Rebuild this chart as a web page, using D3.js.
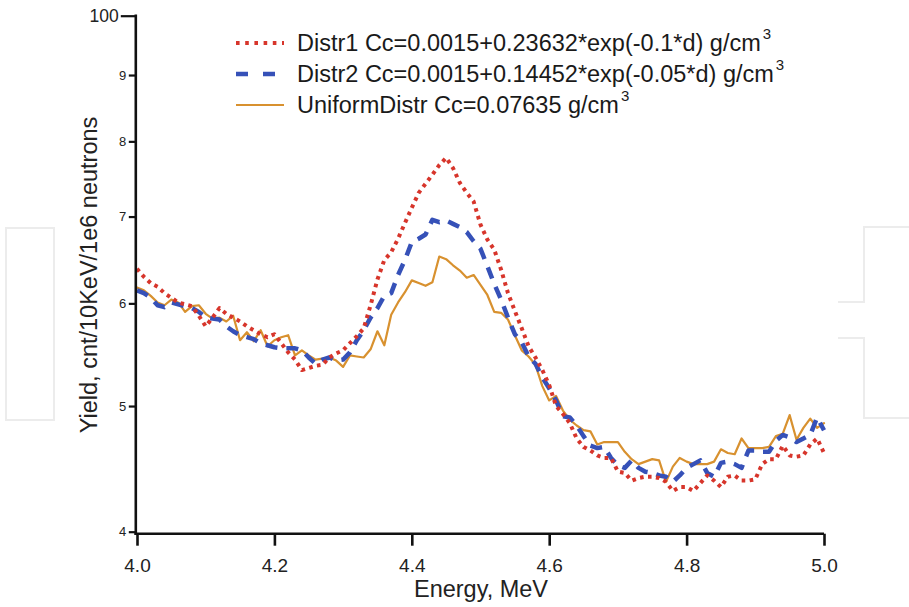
<!DOCTYPE html>
<html>
<head>
<meta charset="utf-8">
<script src="https://cdn.jsdelivr.net/npm/d3@7"></script>
<style>
  html, body { margin: 0; padding: 0; background: #fff; }
  svg { display: block; font-family: "Liberation Sans", Arial, sans-serif; }
</style>
</head>
<body>
<svg id="chart" width="909" height="607"></svg>
<script>
// Energy grid, MeV (0.01 MeV bins)
const energy = d3.range(0, 101).map(i => +(4 + i * 0.01).toFixed(2));

// Yield, cnt/10KeV/1e6 neutrons
const distr1 = [
  6.38, 6.29, 6.22, 6.18, 6.11, 6.06, 6.01, 5.99, 5.97, 5.87,
  5.76, 5.85, 5.95, 5.89, 5.85, 5.81, 5.76, 5.72, 5.68, 5.65,
  5.68, 5.59, 5.50, 5.43, 5.33, 5.35, 5.37, 5.38, 5.45, 5.49,
  5.52, 5.59, 5.66, 5.74, 5.98, 6.26, 6.48, 6.57, 6.73, 6.92,
  7.11, 7.30, 7.42, 7.54, 7.67, 7.77, 7.63, 7.43, 7.30, 7.19,
  6.90, 6.72, 6.60, 6.37, 6.11, 5.92, 5.74, 5.56, 5.45, 5.33,
  5.19, 5.00, 4.93, 4.85, 4.72, 4.65, 4.62, 4.58, 4.56, 4.56,
  4.45, 4.44, 4.38, 4.40, 4.41, 4.41, 4.40, 4.37, 4.30, 4.33,
  4.33, 4.30, 4.36, 4.42, 4.38, 4.33, 4.41, 4.42, 4.38, 4.38,
  4.39, 4.51, 4.55, 4.55, 4.66, 4.58, 4.57, 4.58, 4.67, 4.72,
  4.60
];
const distr2 = [
  6.14, 6.11, 6.06, 5.98, 5.96, 6.01, 5.99, 5.97, 5.95, 5.91,
  5.85, 5.84, 5.83, 5.76, 5.71, 5.67, 5.65, 5.63, 5.59, 5.57,
  5.55, 5.54, 5.54, 5.54, 5.52, 5.45, 5.39, 5.43, 5.45, 5.42,
  5.43, 5.50, 5.62, 5.72, 5.85, 5.95, 6.08, 6.11, 6.31, 6.48,
  6.69, 6.73, 6.78, 6.96, 6.93, 6.95, 6.91, 6.87, 6.81, 6.70,
  6.61, 6.41, 6.21, 6.04, 5.85, 5.68, 5.60, 5.46, 5.39, 5.26,
  5.16, 5.05, 4.91, 4.90, 4.83, 4.74, 4.66, 4.64, 4.65, 4.56,
  4.50, 4.48, 4.54, 4.48, 4.45, 4.44, 4.42, 4.41, 4.37, 4.42,
  4.48, 4.51, 4.54, 4.44, 4.41, 4.52, 4.53, 4.51, 4.48, 4.62,
  4.62, 4.61, 4.61, 4.70, 4.75, 4.73, 4.69, 4.72, 4.75, 4.90,
  4.79
];
const uniform = [
  6.17, 6.14, 6.08, 6.01, 5.98, 6.04, 6.01, 5.91, 5.97, 5.98,
  5.89, 5.84, 5.85, 5.81, 5.87, 5.62, 5.70, 5.61, 5.72, 5.56,
  5.62, 5.65, 5.67, 5.47, 5.52, 5.47, 5.43, 5.44, 5.45, 5.42,
  5.36, 5.47, 5.46, 5.45, 5.53, 5.71, 5.57, 5.88, 6.01, 6.12,
  6.25, 6.22, 6.19, 6.23, 6.52, 6.49, 6.42, 6.36, 6.28, 6.31,
  6.20, 6.09, 5.91, 5.90, 5.83, 5.67, 5.52, 5.46, 5.38, 5.18,
  5.05, 5.09, 4.96, 4.88, 4.83, 4.79, 4.78, 4.67, 4.69, 4.69,
  4.69, 4.61, 4.55, 4.51, 4.53, 4.55, 4.54, 4.37, 4.49, 4.56,
  4.53, 4.51, 4.51, 4.51, 4.53, 4.63, 4.60, 4.59, 4.72, 4.64,
  4.64, 4.64, 4.65, 4.74, 4.76, 4.92, 4.71, 4.81, 4.89, 4.81,
  4.85
];

const xTicks = [4.0, 4.2, 4.4, 4.6, 4.8, 5.0];
const yTicks = [4, 5, 6, 7, 8, 9, 10];
const yTickLabels = ["4", "5", "6", "7", "8", "9", "100"];

const seriesNames = [
  "Distr1 Cc=0.0015+0.23632*exp(-0.1*d) g/cm",
  "Distr2 Cc=0.0015+0.14452*exp(-0.05*d) g/cm",
  "UniformDistr Cc=0.07635 g/cm"
];

const series = [
  { name: seriesNames[0], values: distr1, color: "#d7352b", width: 4,   dash: "3.6,4.4", legendDash: "3.6,5.6", cap: "butt" },
  { name: seriesNames[1], values: distr2, color: "#3651b8", width: 4.5, dash: "12,9",    legendDash: "12,15",   cap: "butt" },
  { name: seriesNames[2], values: uniform, color: "#d8912f", width: 2.2, dash: null,     legendDash: null,      cap: "round" }
];

const svg = d3.select("#chart");

// faint page decorations at the edges
const deco = svg.append("g").attr("fill", "none").attr("stroke", "#ececec").attr("stroke-width", 2);
deco.append("rect").attr("x", 6).attr("y", 228).attr("width", 48).attr("height", 192);
deco.append("path").attr("d", "M909,227H864V302H838M838,338H864V418H909");

const x = d3.scaleLinear().domain([4, 5]).range([137, 824]);
const y = d3.scaleLog().domain([4, 10]).range([531.7, 15.7]);

// data lines
const line = d3.line().x((d, i) => x(energy[i])).y(d => y(d));
const lines = svg.append("g");
series.slice().reverse().forEach(s => {
  lines.append("path")
    .datum(s.values)
    .attr("d", line)
    .attr("fill", "none")
    .attr("stroke", s.color)
    .attr("stroke-width", s.width)
    .attr("stroke-linejoin", "round")
    .attr("stroke-linecap", s.cap)
    .attr("stroke-dasharray", s.dash);
});

// x axis
const xAxis = svg.append("g")
  .attr("transform", "translate(0,533.7)")
  .call(d3.axisBottom(x).tickValues(xTicks).tickFormat(d3.format(".1f")).tickSize(12).tickSizeOuter(0).tickPadding(13));
xAxis.select(".domain").attr("d", "M134.5,0H824").attr("stroke", "#111").attr("stroke-width", 2.6);
xAxis.selectAll(".tick line").attr("stroke", "#111").attr("stroke-width", 2.6);
xAxis.selectAll(".tick text").attr("font-size", 19).attr("fill", "#222").attr("font-family", "Liberation Sans, Arial, sans-serif");

// y axis
const yAxis = svg.append("g")
  .attr("transform", "translate(135.8,0)")
  .call(d3.axisLeft(y).tickValues(yTicks).tickFormat((d, i) => yTickLabels[i]).tickSize(7).tickSizeOuter(0).tickPadding(3));
yAxis.select(".domain").attr("d", "M0,14.5V535").attr("stroke", "#111").attr("stroke-width", 2.6);
yAxis.selectAll(".tick line").attr("stroke", "#111").attr("stroke-width", 2.2)
  .attr("x2", d => d === 10 ? -15 : -7);
yAxis.selectAll(".tick text")
  .attr("font-family", "Liberation Sans, Arial, sans-serif")
  .attr("fill", "#222")
  .attr("font-size", d => d === 10 ? 17.5 : 13)
  .attr("x", d => d === 10 ? -17 : -9.5);

// axis titles
svg.append("text")
  .attr("x", 481).attr("y", 597)
  .attr("text-anchor", "middle")
  .attr("font-size", 23.5).attr("fill", "#222")
  .text("Energy, MeV");
svg.append("text")
  .attr("transform", "translate(97,275) rotate(-90)")
  .attr("text-anchor", "middle")
  .attr("font-size", 23.5).attr("fill", "#222")
  .text("Yield, cnt/10KeV/1e6 neutrons");

// legend
const legend = svg.append("g");
const rowY = [43, 74, 105];
series.forEach((s, i) => {
  const g = legend.append("g").attr("transform", `translate(0,${rowY[i]})`);
  g.append("line")
    .attr("x1", 236).attr("x2", 284).attr("y1", 0).attr("y2", 0)
    .attr("stroke", s.color)
    .attr("stroke-width", s.width)
    .attr("stroke-dasharray", s.legendDash);
  const t = g.append("text")
    .attr("x", 297).attr("y", 8.3)
    .attr("font-size", 23.5).attr("fill", "#1a1a1a");
  t.append("tspan").text(s.name);
  t.append("tspan").attr("dy", -12).attr("dx", 2).attr("font-size", 15).text("3");
});
</script>
</body>
</html>
